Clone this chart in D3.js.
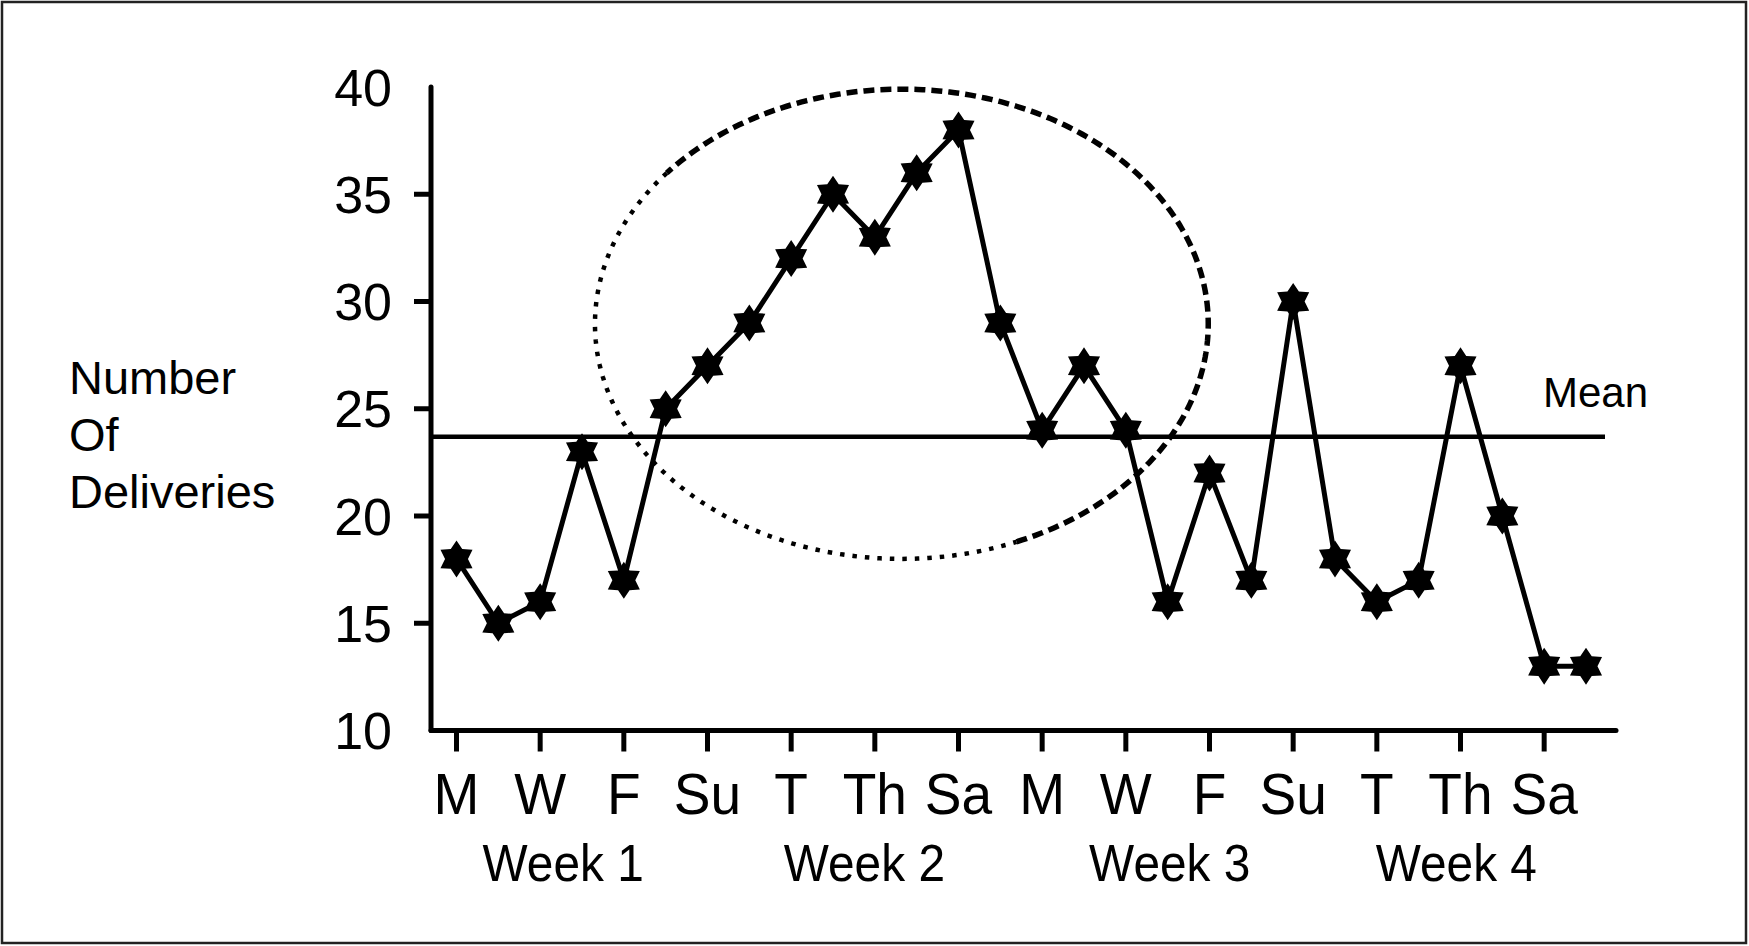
<!DOCTYPE html>
<html>
<head>
<meta charset="utf-8">
<script src="https://cdn.jsdelivr.net/npm/d3@7"></script>
<style>
  html, body { margin: 0; padding: 0; background: #fff; }
  svg { display: block; }
  text { font-family: "Liberation Sans", Arial, sans-serif; fill: #000; }
</style>
</head>
<body>
<svg id="chart"></svg>
<script>
// deliveries per day, 4 weeks starting Monday
const deliveries = [18, 15, 16, 23, 17, 25, 27,
                    29, 32, 35, 33, 36, 38, 29,
                    24, 27, 24, 16, 22, 17, 30,
                    18, 16, 17, 27, 20, 13, 13];
const dayLabels = ["M", "W", "F", "Su", "T", "Th", "Sa", "M", "W", "F", "Su", "T", "Th", "Sa"];
const dayLabelIdx = [0, 2, 4, 6, 8, 10, 12, 14, 16, 18, 20, 22, 24, 26];
const weekLabels = ["Week 1", "Week 2", "Week 3", "Week 4"];
const weekLabelPos = [2.55, 9.75, 17.05, 23.9];
const yTicks = [10, 15, 20, 25, 30, 35, 40];
const meanValue = 23.7;
// circled region (center day, center value, half width in days, half height in deliveries)
const circled = { day: 10.64, value: 28.95, rDays: 7.33, rValue: 10.95 };

const W = 1749, H = 946;
const svg = d3.select("#chart").attr("width", W).attr("height", H);

// outer frame
svg.append("rect")
  .attr("x", 2).attr("y", 2)
  .attr("width", W - 5).attr("height", H - 5)
  .attr("fill", "none").attr("stroke", "#222").attr("stroke-width", 2.5);

const x = d3.scaleLinear().domain([0, deliveries.length - 1]).range([456.5, 1586]);
const y = d3.scaleLinear().domain([10, 40]).range([730.5, 87]);
const axisX = 431, axisRight = 1616;

// axes
svg.append("line")
  .attr("x1", axisX).attr("x2", axisX)
  .attr("y1", y(40)).attr("y2", y(10))
  .attr("stroke", "#000").attr("stroke-width", 5).attr("stroke-linecap", "round");
svg.append("line")
  .attr("x1", axisX).attr("x2", axisRight)
  .attr("y1", y(10)).attr("y2", y(10))
  .attr("stroke", "#000").attr("stroke-width", 5).attr("stroke-linecap", "round");

// y ticks (no tick at the ends)
svg.append("g").selectAll("line")
  .data(yTicks.filter(d => d > 10 && d < 40))
  .join("line")
  .attr("x1", axisX - 17).attr("x2", axisX)
  .attr("y1", d => y(d)).attr("y2", d => y(d))
  .attr("stroke", "#000").attr("stroke-width", 5);

svg.append("g").selectAll("text")
  .data(yTicks)
  .join("text")
  .attr("x", 392)
  .attr("y", d => y(d))
  .attr("dy", "0.36em")
  .attr("text-anchor", "end")
  .attr("font-size", 52)
  .text(d => d);

// x ticks
svg.append("g").selectAll("line")
  .data(dayLabelIdx)
  .join("line")
  .attr("x1", d => x(d)).attr("x2", d => x(d))
  .attr("y1", y(10)).attr("y2", y(10) + 21)
  .attr("stroke", "#000").attr("stroke-width", 5);

// condensed labels under the axis
svg.append("g").selectAll("text")
  .data(dayLabels)
  .join("text")
  .attr("transform", (d, i) => `translate(${x(dayLabelIdx[i])},814) scale(0.95,1)`)
  .attr("text-anchor", "middle")
  .attr("font-size", 58)
  .text(d => d);

svg.append("g").selectAll("text")
  .data(weekLabels)
  .join("text")
  .attr("transform", (d, i) => `translate(${x(weekLabelPos[i])},881) scale(0.92,1)`)
  .attr("text-anchor", "middle")
  .attr("font-size", 52)
  .text(d => d);

// y label
svg.append("text")
  .attr("font-size", 47)
  .selectAll("tspan")
  .data(["Number", "Of", "Deliveries"])
  .join("tspan")
  .attr("x", 69)
  .attr("y", (d, i) => 394 + i * 57)
  .text(d => d);

// mean line
svg.append("line")
  .attr("x1", axisX).attr("x2", 1605)
  .attr("y1", y(meanValue)).attr("y2", y(meanValue))
  .attr("stroke", "#000").attr("stroke-width", 4.5);
svg.append("text")
  .attr("x", 1543).attr("y", 407)
  .attr("font-size", 42)
  .text("Mean");

// dotted / dashed ellipse around the peak
const ellipsePts = (a0, a1) => d3.range(a0, a1 + 0.5, 1).map(a => {
  const t = a * Math.PI / 180;
  return [x(circled.day + circled.rDays * Math.cos(t)), y(circled.value + circled.rValue * Math.sin(t))];
});
const ellLine = d3.line();
// upper-right part: dashes
svg.append("path")
  .attr("d", ellLine(ellipsePts(-68, 140)))
  .attr("fill", "none").attr("stroke", "#000")
  .attr("stroke-width", 5.5).attr("stroke-dasharray", "11 6");
// lower-left part: dots
svg.append("path")
  .attr("d", ellLine(ellipsePts(140, 292)))
  .attr("fill", "none").attr("stroke", "#000")
  .attr("stroke-width", 4.5).attr("stroke-dasharray", "4.5 8");

// data line
const line = d3.line()
  .x((d, i) => x(i))
  .y(d => y(d));
svg.append("path")
  .datum(deliveries)
  .attr("d", line)
  .attr("fill", "none").attr("stroke", "#000")
  .attr("stroke-width", 5).attr("stroke-linejoin", "round");

// six-pointed star markers
function hexagram(R) {
  const r = R * 0.62;
  const pts = d3.range(12).map(k => {
    const a = -Math.PI / 2 + k * Math.PI / 6;
    const rr = k % 2 === 0 ? R : r;
    return [rr * Math.cos(a), rr * Math.sin(a)];
  });
  return "M" + pts.map(p => p.join(",")).join("L") + "Z";
}
svg.append("g").selectAll("path")
  .data(deliveries)
  .join("path")
  .attr("transform", (d, i) => `translate(${x(i)},${y(d)})`)
  .attr("d", hexagram(18.5))
  .attr("fill", "#000");
</script>
</body>
</html>
